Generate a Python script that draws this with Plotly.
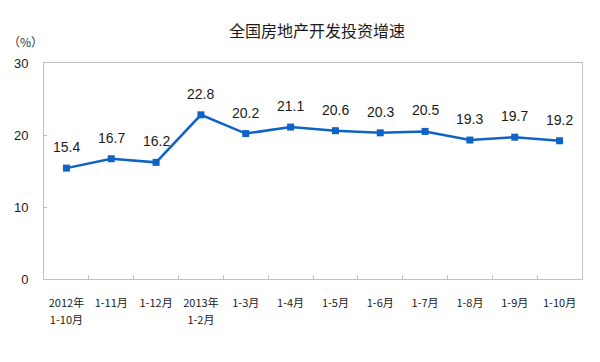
import plotly.graph_objects as go

labels_line1 = ["2012年", "1-11月", "1-12月", "2013年", "1-3月", "1-4月",
                "1-5月", "1-6月", "1-7月", "1-8月", "1-9月", "1-10月"]
labels_line2 = ["1-10月", "", "", "1-2月", "", "", "", "", "", "", "", ""]
growth = [15.4, 16.7, 16.2, 22.8, 20.2, 21.1, 20.6, 20.3, 20.5, 19.3, 19.7, 19.2]
y_ticks = [0, 10, 20, 30]

title_text = "全国房地产开发投资增速"
unit_text = "（%）"

line_color = "#0f62c6"
axis_color = "#c0c0c0"

idx = list(range(len(growth)))
boundaries = [i + 0.5 for i in idx[:-1]]

fig = go.Figure()
fig.add_trace(go.Scatter(
    x=idx, y=growth, mode="lines+markers",
    line=dict(color=line_color, width=2.5),
    marker=dict(symbol="square", size=7, color=line_color),
    hoverinfo="skip", showlegend=False,
))
# invisible trace to carry the second row of category labels
fig.add_trace(go.Scatter(x=idx, y=growth, xaxis="x2", mode="markers",
                         marker=dict(opacity=0), hoverinfo="skip", showlegend=False))
# invisible trace for the boundary tick marks
fig.add_trace(go.Scatter(x=idx, y=growth, xaxis="x3", mode="markers",
                         marker=dict(opacity=0), hoverinfo="skip", showlegend=False))

for i, v in zip(idx, growth):
    fig.add_annotation(x=i, y=v, text=f"{v:.1f}", showarrow=False, yshift=21,
                       font=dict(family="Liberation Sans, Arial", size=14, color="#1a1a1a"))

fig.add_annotation(xref="paper", yref="paper", x=(317 - 44) / 538, y=1 + (279 - 30 - 216) / 216,
                   text=title_text, showarrow=False, xanchor="center", yanchor="middle",
                   font=dict(family="Noto Sans CJK SC", size=16, color="#1a1a1a"))
fig.add_annotation(xref="paper", yref="paper", x=(25 - 44) / 538, y=1 + (63 - 42) / 216,
                   text=unit_text, showarrow=False, xanchor="center", yanchor="middle",
                   font=dict(family="Noto Sans CJK SC", size=12, color="#333333"))

tick_font = dict(family="Noto Sans CJK SC", size=11, color="#1a1a1a")
xrange = [-0.5, len(growth) - 0.5]

fig.update_layout(
    width=600, height=362,
    margin=dict(l=44, r=18, t=63, b=83),
    paper_bgcolor="white", plot_bgcolor="white",
    xaxis=dict(range=xrange, tickvals=idx, ticktext=labels_line1,
               ticks="", tickangle=0,
               showline=True, linecolor=axis_color, linewidth=1, mirror=True,
               showgrid=False, zeroline=False, ticklabelstandoff=14,
               tickfont=tick_font),
    xaxis2=dict(range=xrange, overlaying="x", anchor="y", side="bottom",
                tickvals=idx, ticktext=labels_line2, ticks="", tickangle=0,
                showline=False, showgrid=False, zeroline=False,
                ticklabelstandoff=33, tickfont=tick_font),
    xaxis3=dict(range=xrange, overlaying="x", anchor="y", side="bottom",
                tickvals=boundaries, showticklabels=False,
                ticks="inside", ticklen=4, tickcolor=axis_color,
                showline=False, showgrid=False, zeroline=False),
    yaxis=dict(range=[0, 30], tickvals=y_ticks, ticks="inside", ticklen=3,
               tickcolor=axis_color, showline=True, linecolor=axis_color,
               linewidth=1, mirror=True, showgrid=False, zeroline=False,
               ticklabelstandoff=12,
               tickfont=dict(family="Liberation Sans, Arial", size=13, color="#1a1a1a")),
)

fig.write_html("out.html")
